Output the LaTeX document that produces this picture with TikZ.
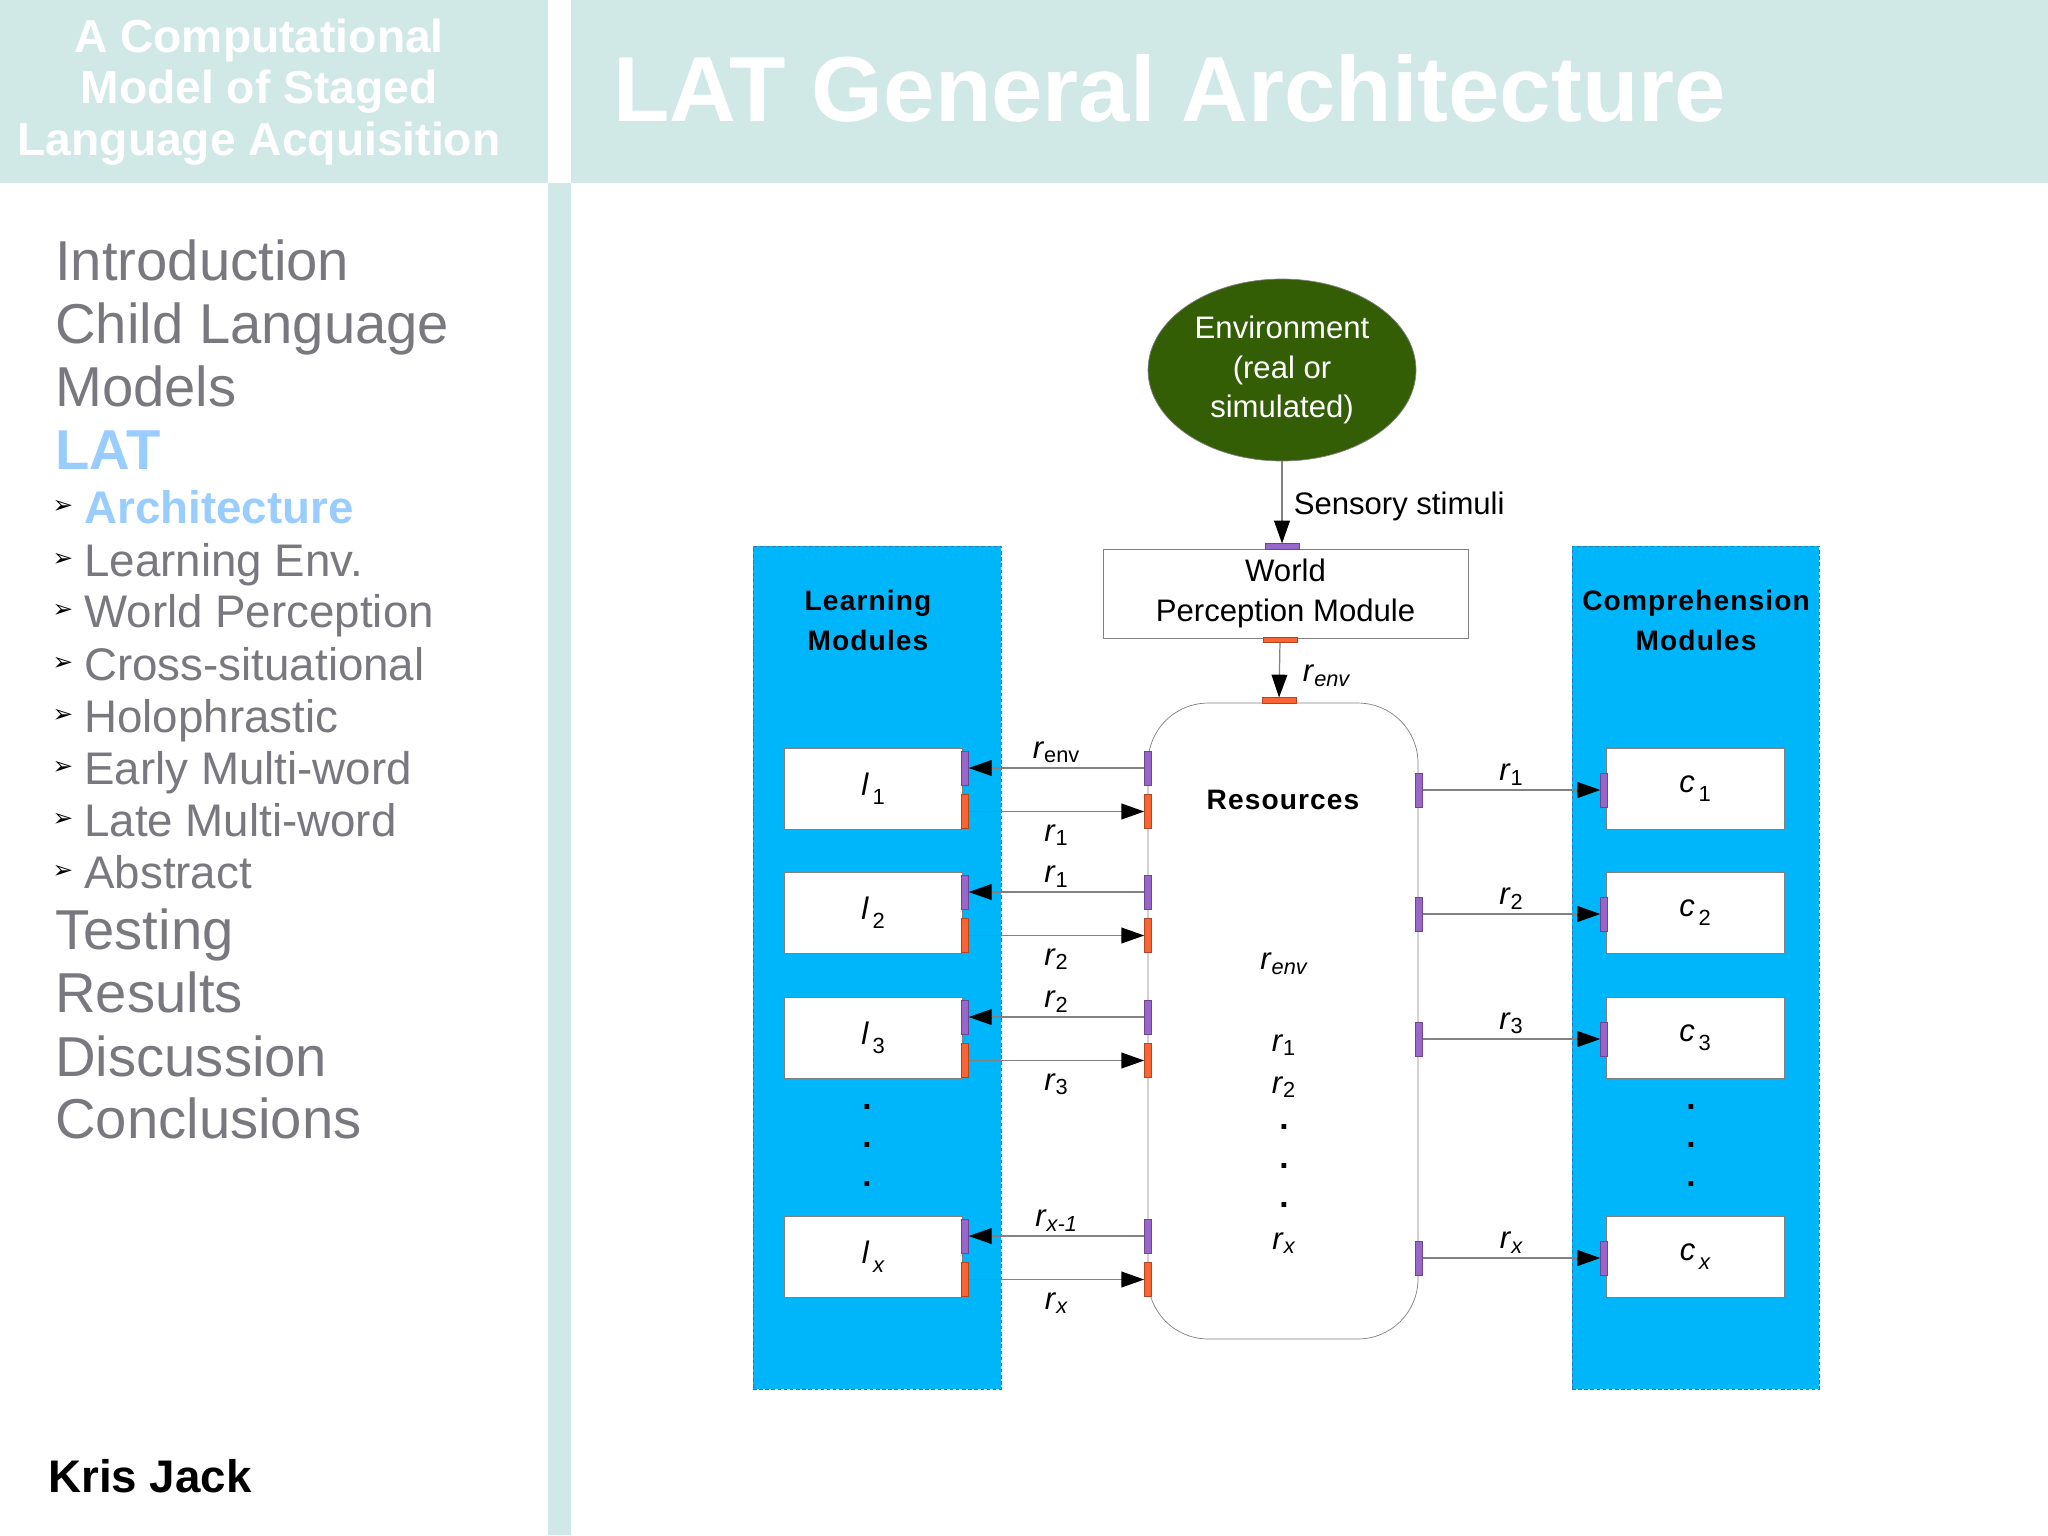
\documentclass[tikz,border=0pt]{standalone}
\usepackage{fontspec}
\setmainfont{Liberation Sans}
\newfontfamily\symbolfont{DejaVu Sans}
\newfontfamily\spacedfont[LetterSpace=4]{Liberation Sans}
\usetikzlibrary{shapes.geometric,arrows.meta}

\definecolor{headteal}{RGB}{208,232,230}
\definecolor{menugray}{RGB}{120,120,126}
\definecolor{menublue}{RGB}{153,204,255}
\definecolor{envgreen}{RGB}{51,94,5}
\definecolor{panelblue}{RGB}{0,182,250}
\definecolor{panelline}{RGB}{40,120,180}
\definecolor{boxgray}{RGB}{128,128,128}
\definecolor{linegray}{RGB}{130,130,130}
\definecolor{portpurple}{RGB}{153,102,204}
\definecolor{portorange}{RGB}{250,100,50}

\newcommand{\rlab}[1]{\textit{r}\textsubscript{#1}}
\newcommand{\modlab}[2]{\textit{#1}\raisebox{-0.55ex}{\fontsize{12.5}{12.5}\selectfont\,#2}}

\tikzset{
  menu/.style={anchor=base west, inner sep=0, text=menugray, font=\fontsize{32}{36}\selectfont},
  submenu/.style={anchor=base west, inner sep=0, text=menugray, font=\fontsize{26}{30}\selectfont},
  bullet/.style={inner sep=0, font=\symbolfont\fontsize{14}{14}\selectfont},
  panel/.style={draw=panelline, dashed, dash pattern=on 2pt off 1.5pt, line width=0.4pt,
    fill=panelblue, minimum width=4.96cm, minimum height=16.86cm, inner sep=0},
  heading/.style={font=\spacedfont\bfseries\fontsize{16}{22.7}\selectfont, align=center},
  module/.style={draw=boxgray, fill=white, minimum width=3.56cm, minimum height=1.62cm, inner sep=0},
  purpleport/.style={draw=portpurple!70!black, fill=portpurple, line width=0.3pt,
    minimum width=0.14cm, minimum height=0.68cm, inner sep=0},
  orangeport/.style={purpleport, draw=portorange!70!black, fill=portorange},
  flat/.style={minimum width=0.68cm, minimum height=0.11cm},
  link/.style={draw=linegray, line width=0.7pt, -{Triangle[length=13pt, width=9pt, color=black]}},
  uplabel/.style={above, inner sep=2.5pt},
  downlabel/.style={below=4pt, inner sep=3pt},
  dotmark/.style={font=\bfseries\fontsize{19}{19}\selectfont},
}

\begin{document}
\begin{tikzpicture}[x=0.02cm, y=-0.02cm, font=\fontsize{17.7}{22.5}\selectfont]
  \useasboundingbox (0,0) rectangle (2048,1535);
  \fill[white] (0,0) rectangle (2048,1535);

  % slide frame
  \fill[headteal] (0,0) rectangle (548,183);
  \fill[headteal] (571,0) rectangle (2048,183);
  \fill[headteal] (548,183) rectangle (571,1535);

  \node[text=white, align=center, font=\bfseries\fontsize{26.3}{29.3}\selectfont] (subtitle) at (259,92)
    {A Computational\\Model of Staged\\Language Acquisition};
  \node[anchor=base west, inner sep=0, text=white, font=\bfseries\fontsize{52.6}{52.6}\selectfont] (title)
    at (613,121) {LAT General Architecture};

  % outline
  \node[menu] (intro) at (55,280) {Introduction};
  \node[menu] (childlang) at (55,343) {Child Language};
  \node[menu] (models) at (55,406) {Models};
  \node[menu, text=menublue, font=\bfseries\fontsize{32}{36}\selectfont] (lat) at (55,469) {LAT};

  \node[bullet] (b1) at (63,507) {➢};
  \node[bullet] (b2) at (63,560) {➢};
  \node[bullet] (b3) at (63,611) {➢};
  \node[bullet] (b4) at (63,664) {➢};
  \node[bullet] (b5) at (63,716) {➢};
  \node[bullet] (b6) at (63,768) {➢};
  \node[bullet] (b7) at (63,820) {➢};
  \node[bullet] (b8) at (63,872) {➢};
  \node[submenu, text=menublue, font=\bfseries\fontsize{26}{30}\selectfont] (arch) at (84,523) {Architecture};
  \node[submenu] (learnenv) at (84,576) {Learning Env.};
  \node[submenu] (worldperc) at (84,627) {World Perception};
  \node[submenu] (crosssit) at (84,680) {Cross-situational};
  \node[submenu] (holo) at (84,732) {Holophrastic};
  \node[submenu] (early) at (84,784) {Early Multi-word};
  \node[submenu] (late) at (84,836) {Late Multi-word};
  \node[submenu] (abstract) at (84,888) {Abstract};

  \node[menu] (testing) at (55,949) {Testing};
  \node[menu] (results) at (55,1012) {Results};
  \node[menu] (discussion) at (55,1076) {Discussion};
  \node[menu] (conclusions) at (55,1138) {Conclusions};

  \node[anchor=base west, inner sep=0, font=\bfseries\fontsize{26}{30}\selectfont] (author) at (48,1492) {Kris Jack};

  % module panels
  \node[panel] (learnpanel) at (877,967.5) {};
  \node[panel, minimum width=4.94cm] (comppanel) at (1695.5,967.5) {};
  \node[heading] (learnhead) at (868,620) {Learning\\Modules};
  \node[heading] (comphead) at (1696,620) {Comprehension\\Modules};

  % environment and perception
  \node[ellipse, draw=black!50, fill=envgreen, text=white, minimum width=5.36cm, minimum height=3.64cm,
    inner sep=0, align=center] (env) at (1282,370) {Environment\\(real or\\simulated)};
  \node[draw=boxgray, fill=white, minimum width=7.3cm, minimum height=1.78cm, align=center] (wpm)
    at (1285.5,593.5) {World\\Perception Module};
  \node[draw=boxgray, fill=white, rounded corners=1.2cm, minimum width=5.4cm, minimum height=12.72cm] (res)
    at (1283,1021) {};
  \node[font=\spacedfont\bfseries\fontsize{16}{20}\selectfont] (reshead) at (1283,800) {Resources};

  \node (renv) at (1284,964) {\rlab{\itshape env}};
  \node (rone) at (1284,1045) {\rlab{1}};
  \node (rtwo) at (1284,1087) {\rlab{2}};
  \node[dotmark] (rdota) at (1284,1127) {.};
  \node[dotmark] (rdotb) at (1284,1166) {.};
  \node[dotmark] (rdotc) at (1284,1205) {.};
  \node (rx) at (1284,1243) {\rlab{\itshape x}};

  \node[purpleport, flat] (wpmin) at (1282,546.5) {};
  \node[orangeport, flat] (wpmout) at (1280,640) {};
  \node[orangeport, flat] (resin) at (1279,700.5) {};

  \draw[link] (env) -- node[right=3pt, pos=0.55] {Sensory stimuli} (wpmin);
  \draw[link] (wpmout) -- node[right=13pt, pos=0.6, inner sep=0] {\rlab{\itshape env}} (resin);

  % learning modules
  \node[module] (l1) at (873,788.5) {\modlab{l}{1}};
  \node[module] (l2) at (873,912.5) {\modlab{l}{2}};
  \node[module] (l3) at (873,1037.5) {\modlab{l}{3}};
  \node[module] (lx) at (873,1256.5) {\modlab{l}{\itshape x}};
  \node[dotmark] (ldota) at (867,1107) {.};
  \node[dotmark] (ldotb) at (867,1145) {.};
  \node[dotmark] (ldotc) at (867,1184) {.};

  \node[purpleport] (l1in) at (965,768) {};
  \node[orangeport] (l1out) at (965,811.5) {};
  \node[purpleport] (l2in) at (965,892) {};
  \node[orangeport] (l2out) at (965,935.5) {};
  \node[purpleport] (l3in) at (965,1017) {};
  \node[orangeport] (l3out) at (965,1060.5) {};
  \node[purpleport] (lxin) at (965,1236) {};
  \node[orangeport] (lxout) at (965,1279.5) {};

  \node[purpleport] (resl1) at (1148,768) {};
  \node[orangeport] (resr1) at (1148,811.5) {};
  \node[purpleport] (resl2) at (1148,892) {};
  \node[orangeport] (resr2) at (1148,935.5) {};
  \node[purpleport] (resl3) at (1148,1017) {};
  \node[orangeport] (resr3) at (1148,1060.5) {};
  \node[purpleport] (reslx) at (1148,1236) {};
  \node[orangeport] (resrx) at (1148,1279.5) {};

  \draw[link] (resl1) -- node[uplabel] {\rlab{env}} (l1in);
  \draw[link] (l1out) -- node[downlabel] {\rlab{1}} (resr1);
  \draw[link] (resl2) -- node[uplabel] {\rlab{1}} (l2in);
  \draw[link] (l2out) -- node[downlabel] {\rlab{2}} (resr2);
  \draw[link] (resl3) -- node[uplabel] {\rlab{2}} (l3in);
  \draw[link] (l3out) -- node[downlabel] {\rlab{3}} (resr3);
  \draw[link] (reslx) -- node[uplabel] {\rlab{\itshape x-1}} (lxin);
  \draw[link] (lxout) -- node[downlabel] {\rlab{\itshape x}} (resrx);

  % comprehension modules
  \node[module] (c1) at (1695,788.5) {\modlab{c}{1}};
  \node[module] (c2) at (1695,912.5) {\modlab{c}{2}};
  \node[module] (c3) at (1695,1037.5) {\modlab{c}{3}};
  \node[module] (cx) at (1695,1256.5) {\modlab{c}{\itshape x}};
  \node[dotmark] (cdota) at (1691,1107) {.};
  \node[dotmark] (cdotb) at (1691,1145) {.};
  \node[dotmark] (cdotc) at (1691,1184) {.};

  \node[purpleport] (c1in) at (1604,790) {};
  \node[purpleport] (c2in) at (1604,914) {};
  \node[purpleport] (c3in) at (1604,1039) {};
  \node[purpleport] (cxin) at (1604,1258) {};
  \node[purpleport] (resc1) at (1419,790) {};
  \node[purpleport] (resc2) at (1419,914) {};
  \node[purpleport] (resc3) at (1419,1039) {};
  \node[purpleport] (rescx) at (1419,1258) {};

  \draw[link] (resc1) -- node[uplabel] {\rlab{1}} (c1in);
  \draw[link] (resc2) -- node[uplabel] {\rlab{2}} (c2in);
  \draw[link] (resc3) -- node[uplabel] {\rlab{3}} (c3in);
  \draw[link] (rescx) -- node[uplabel] {\rlab{\itshape x}} (cxin);
\end{tikzpicture}
\end{document}
